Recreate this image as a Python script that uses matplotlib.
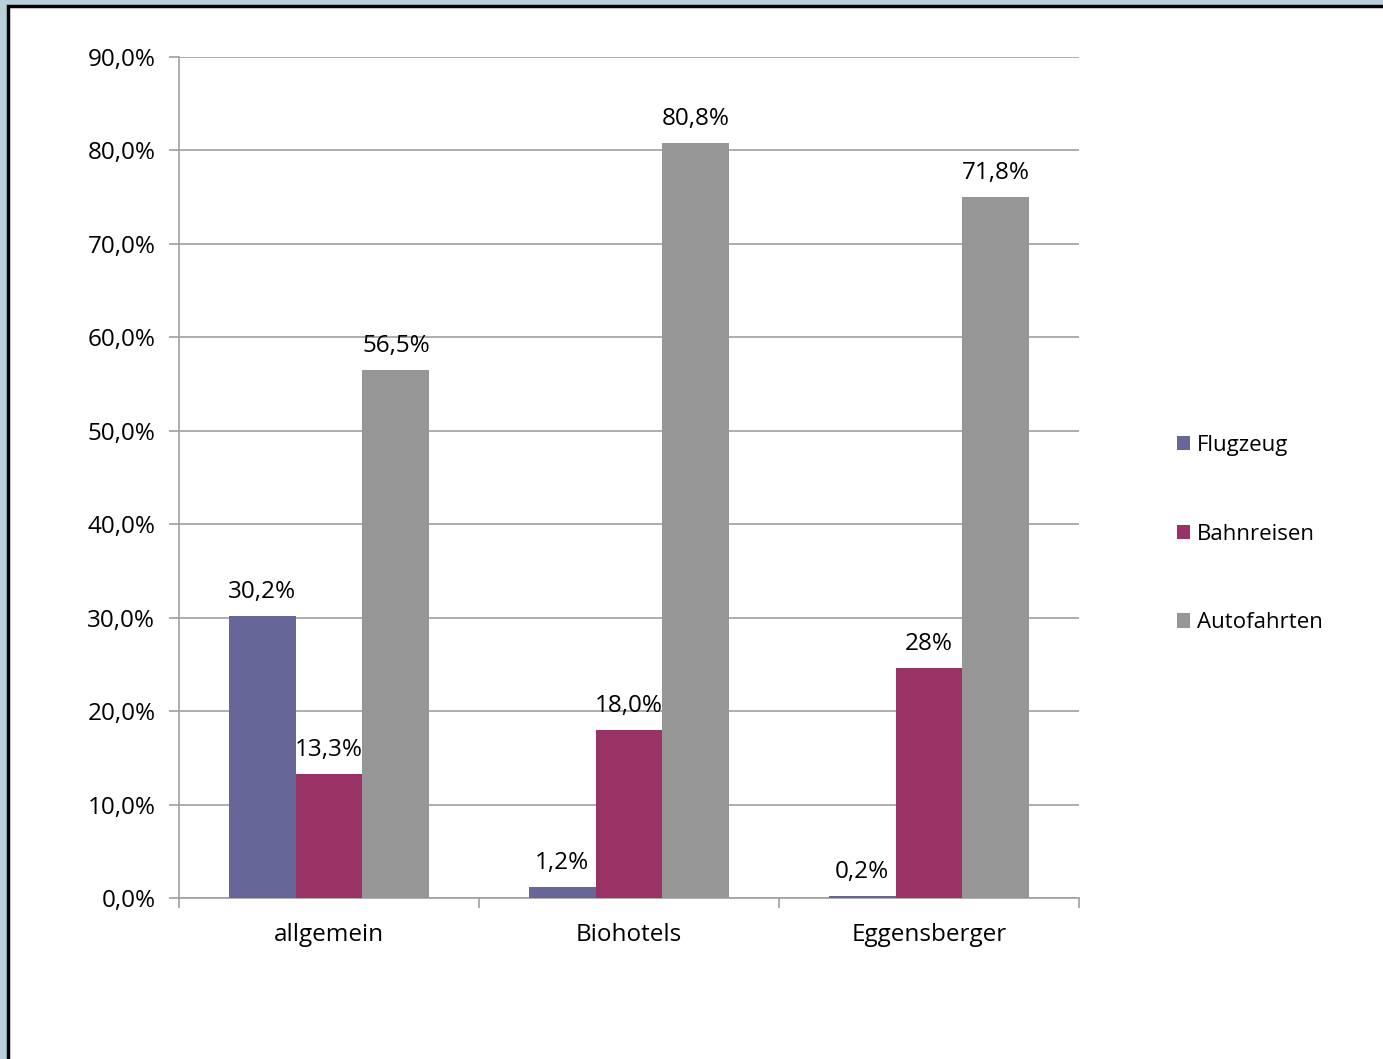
import matplotlib
matplotlib.use('Agg')
import matplotlib.pyplot as plt
from matplotlib.patches import Rectangle
from matplotlib.ticker import FuncFormatter
import numpy as np

categories = ['allgemein', 'Biohotels', 'Eggensberger']
series = ['Flugzeug', 'Bahnreisen', 'Autofahrten']
flugzeug = [30.2, 1.2, 0.2]
bahnreisen = [13.3, 18.0, 24.6]
autofahrten = [56.5, 80.8, 75.0]
labels_flug = ['30,2%', '1,2%', '0,2%']
labels_bahn = ['13,3%', '18,0%', '28%']
labels_auto = ['56,5%', '80,8%', '71,8%']
colors = ['#666699', '#993366', '#969696']

plt.rcParams['font.family'] = ['Open Sans', 'DejaVu Sans']

W, H = 1383, 1059
fig = plt.figure(figsize=(W / 100, H / 100), dpi=100, facecolor='#b9d0dc')
# white chart frame with black border
frame = Rectangle((8 / W, -0.02), 1.02, 1 - 6 / H + 0.02, transform=fig.transFigure,
                  facecolor='white', edgecolor='black', linewidth=2.5, zorder=-10)
fig.add_artist(frame)

ax = fig.add_axes([179 / W, 161 / H, 900 / W, 841 / H])
ax.set_zorder(5)
ax.set_facecolor('white')

fs = 17.5
x = np.arange(len(categories))
bw = 0.2233
data = [flugzeug, bahnreisen, autofahrten]
labs = [labels_flug, labels_bahn, labels_auto]
for i, (vals, lab) in enumerate(zip(data, labs)):
    bars = ax.bar(x + (i - 1) * bw, vals, bw, color=colors[i], label=series[i], zorder=3)
    for b, t in zip(bars, lab):
        ax.annotate(t, (b.get_x() + b.get_width() / 2, b.get_height()), xytext=(0, 12),
                    textcoords='offset pixels', ha='center', va='bottom', fontsize=fs, zorder=4)

ax.set_xlim(-0.5, 2.5)
ax.set_ylim(0, 90)
ax.set_yticks(np.arange(0, 91, 10))
ax.yaxis.set_major_formatter(FuncFormatter(lambda v, p: ('%.1f%%' % v).replace('.', ',')))
ax.yaxis.grid(True, color='#a0a0a0', linewidth=1.2, zorder=0)
ax.set_axisbelow(True)
ax.set_xticks(x)
ax.set_xticklabels(categories)
ax.set_xticks(np.arange(-0.5, 3, 1), minor=True)
ax.tick_params(axis='x', which='major', length=0, pad=18, labelsize=fs)
ax.tick_params(axis='x', which='minor', length=7, color='#a0a0a0', width=1.2)
ax.tick_params(axis='y', length=7, color='#a0a0a0', width=1.2, pad=10, labelsize=fs)
for s in ['top', 'right']:
    ax.spines[s].set_visible(False)
for s in ['left', 'bottom']:
    ax.spines[s].set_color('#a0a0a0')
    ax.spines[s].set_linewidth(1.2)

ax.legend(loc='center left', bbox_to_anchor=(1157 / W, 1 - 534 / H), bbox_transform=fig.transFigure,
          frameon=False, fontsize=16, handlelength=0.6, handleheight=0.6, handletextpad=0.3,
          labelspacing=3.05)

fig.savefig('out.png', dpi=100, facecolor=fig.get_facecolor())
